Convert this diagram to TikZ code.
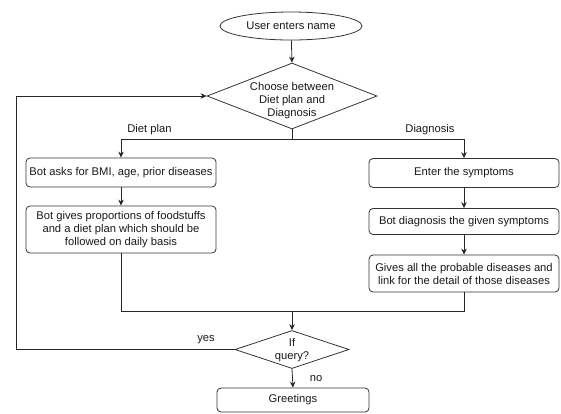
\documentclass[tikz,border=0pt]{standalone}
\usepackage{fontspec}
\setmainfont{Liberation Sans}
\usetikzlibrary{shapes.geometric,arrows.meta}
\begin{document}
\begin{tikzpicture}[x=1pt,y=-1pt,
  every node/.style={font=\fontsize{11.2}{13}\selectfont, text=black!90},
  line/.style={draw=black!85, line width=0.8pt},
  arr/.style={line, -{Stealth[length=6pt,width=5.5pt]}},
  procbox/.style={draw=black!80, line width=0.8pt, rounded corners=4pt, minimum width=190pt, align=center, inner sep=0pt},
  decis/.style={draw=black!80, line width=0.8pt, diamond, inner sep=0pt},
  lbl/.style={inner sep=0pt, align=center}]
\useasboundingbox (0,0) rectangle (561,413);
\node[draw=black!80, line width=0.8pt, ellipse, minimum width=142pt, minimum height=28pt, inner sep=0pt] (start) at (291,26) {User enters name};
\node[decis, minimum width=170pt, minimum height=66pt] (choose) at (292,96) {};
\node[lbl] (choosetxt) at (292,101) {Choose between\\Diet plan and\\Diagnosis};
\node[procbox, minimum height=29pt] (b1) at (121,172.5) {Bot asks for BMI, age, prior diseases};
\node[procbox, minimum height=47pt] (b2) at (121,229.5) {Bot gives proportions of foodstuffs\\and a diet plan which should be\\followed on daily basis};
\node[procbox, minimum height=29pt] (b3) at (464,173) {Enter the symptoms};
\node[procbox, minimum height=26pt] (b4) at (464,221.5) {Bot diagnosis the given symptoms};
\node[procbox, minimum height=37pt] (b5) at (464,273.5) {Gives all the probable diseases and\\link for the detail of those diseases};
\node[decis, minimum width=114pt, minimum height=38pt] (query) at (292,349.5) {};
\node[lbl] (querytxt) at (292,350) {If\\query?};
\node[procbox, minimum width=152pt, minimum height=24pt] (greet) at (293,400) {Greetings};
\coordinate (split) at (292,139);
\coordinate (merge) at (292,311);
\coordinate (loop) at (16,349.5);
\draw[arr] (start) -- (choose.north);
\draw[line] (choose.south) -- (split);
\draw[arr] (split) -| (b1.north);
\draw[arr] (split) -| (b3.north);
\node[lbl] (dietlbl) at (149.5,130) {Diet plan};
\node[lbl] (diaglbl) at (430,130) {Diagnosis};
\draw[arr] (b1) -- (b2);
\draw[arr] (b3) -- (b4);
\draw[arr] (b4) -- (b5);
\draw[line] (b2.south) |- (merge);
\draw[line] (b5.south) |- (merge);
\draw[arr] (merge) -- (query.north);
\draw[arr] (query.west) -- (loop) |- (choose.west);
\node[lbl] (yeslbl) at (206,340) {yes};
\draw[arr] (query.south) -- (greet.north);
\node[lbl] (nolbl) at (316,379) {no};
\end{tikzpicture}
\end{document}
